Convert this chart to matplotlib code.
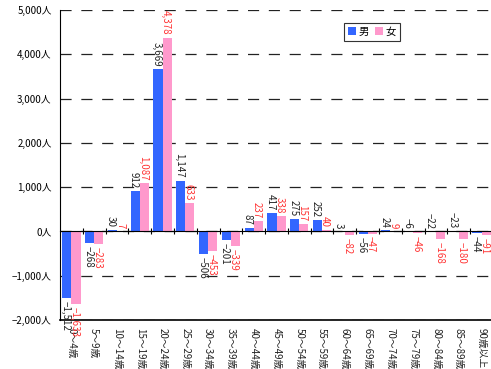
import matplotlib.pyplot as plt
import numpy as np

plt.rcParams['font.family'] = ['Noto Sans CJK JP', 'DejaVu Sans']
plt.rcParams['lines.scale_dashes'] = False

ages = ['0～4歳', '5～9歳', '10～14歳', '15～19歳', '20～24歳', '25～29歳',
        '30～34歳', '35～39歳', '40～44歳', '45～49歳', '50～54歳', '55～59歳',
        '60～64歳', '65～69歳', '70～74歳', '75～79歳', '80～84歳', '85～89歳',
        '90歳以上']
male = [-1512, -268, 30, 912, 3669, 1147, -506, -201, 87, 417, 275, 252,
        3, -56, 24, -6, -22, -23, -44]
female = [-1633, -283, 7, 1087, 4378, 633, -453, -339, 237, 338, 157, 40,
          -82, -47, 9, -46, -168, -180, -91]

blue = '#3366FF'
pink = '#FF99CC'

fig = plt.figure(figsize=(4.91, 3.69), dpi=100)
ax = fig.add_axes([60/491, 49/369, 433/491, 310/369])

x = np.arange(len(ages))
w = 0.4
ax.bar(x - w/2, male, width=w, color=blue, label='男', zorder=3)
ax.bar(x + w/2, female, width=w, color=pink, label='女', zorder=3)

ax.set_xlim(-0.5, len(ages) - 0.5)
ax.set_ylim(-2000, 5000)
yt = np.arange(-2000, 5001, 1000)
ax.set_yticks(yt)
ax.set_yticklabels([f'{v:,}人'.replace('-', '−') for v in yt], fontsize=7)
ax.tick_params(axis='y', length=0, pad=6)

ax.grid(axis='y', color='#222222', linewidth=0.9, linestyle=(0, (8, 7)), zorder=1)

# x axis drawn on the zero line, ticks at group boundaries
ax.spines['bottom'].set_position(('data', 0))
ax.spines['bottom'].set_zorder(4)
ax.spines['top'].set_visible(False)
ax.spines['right'].set_visible(False)
ax.set_xticks(x[:-1] + 0.5)
ax.set_xticklabels([])
ax.tick_params(axis='x', direction='inout', length=5, width=0.8)
ax.plot([0, 1], [0, 0], transform=ax.transAxes, color='black', lw=1.2, clip_on=False)

for i, lab in enumerate(ages):
    ax.text(i, -0.025, lab, transform=ax.get_xaxis_transform(), rotation=-90,
            ha='center', va='top', fontsize=7, color='#222222')

def fmt(v):
    return f'{v:,}'.replace('-', '−')

for i, (m, f) in enumerate(zip(male, female)):
    # male
    if m >= 0 or m > -30:
        ax.annotate(fmt(m), (i - w/2, max(m, 0)), xytext=(-1, 2), textcoords='offset points',
                    rotation=-90, ha='center', va='bottom', fontsize=7, color='#222222')
    else:
        ax.annotate(fmt(m), (i - w/2, m), xytext=(-1, -2), textcoords='offset points',
                    rotation=-90, ha='center', va='top', fontsize=7, color='#222222')
    # female
    if f >= 0:
        ax.annotate(fmt(f), (i + w/2, f), xytext=(-1, 2), textcoords='offset points',
                    rotation=-90, ha='center', va='bottom', fontsize=7, color='#FF3333')
    else:
        ax.annotate(fmt(f), (i + w/2, f), xytext=(-1, -2), textcoords='offset points',
                    rotation=-90, ha='center', va='top', fontsize=7, color='#FF3333')

leg = ax.legend(loc='center', bbox_to_anchor=(0.72, 0.93), ncol=2, fontsize=7.5,
                handlelength=0.8, handleheight=0.8, handletextpad=0.2, columnspacing=0.6,
                fancybox=False, edgecolor='#333333', borderpad=0.4, framealpha=1)
leg.get_frame().set_linewidth(0.8)

fig.savefig('out.png', dpi=100)
